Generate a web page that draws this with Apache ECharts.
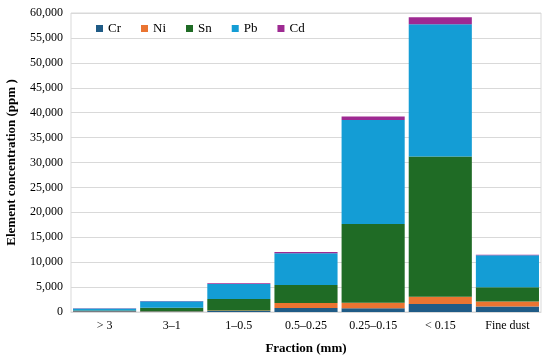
<!DOCTYPE html>
<html><head><meta charset="utf-8">
<script src="https://cdn.jsdelivr.net/npm/echarts@6/dist/echarts.min.js"></script>
<style>html,body{margin:0;padding:0;background:#fff}#c{width:550px;height:359px}</style>
</head><body><div id="c"></div>
<script>
var categories = ['> 3', '3–1', '1–0.5', '0.5–0.25', '0.25–0.15', '< 0.15', 'Fine dust'];
var Cr = [150, 100, 200, 800, 750, 1600, 1100];
var Ni = [30, 50, 100, 1000, 1100, 1480, 1000];
var Sn = [100, 700, 2300, 3600, 15800, 28100, 2850];
var Pb = [420, 1300, 3000, 6400, 20900, 26580, 6450];
var Cd = [50, 50, 150, 250, 700, 1410, 100];
var yTicks = [0, 60000, 5000];

var seriesDefs = [
  ['Cr', Cr, '#1f5b86'],
  ['Ni', Ni, '#ea7431'],
  ['Sn', Sn, '#1f6b25'],
  ['Pb', Pb, '#149dd5'],
  ['Cd', Cd, '#9e2a92']
];
var font = 'Liberation Serif';
var chart = echarts.init(document.getElementById('c'));
chart.setOption({
  animation: false,
  textStyle: {fontFamily: font},
  grid: {left: 71, right: 9, top: 13, bottom: 47, show: true, borderColor: '#d9d9d9', borderWidth: 1,
    outerBoundsMode: 'none', containLabel: false},
  legend: {
    left: 91, top: 17, itemWidth: 7, itemHeight: 7, itemGap: 20,
    icon: 'rect',
    textStyle: {fontFamily: font, fontSize: 13, color: '#000'},
    data: seriesDefs.map(function(s){return s[0];})
  },
  xAxis: {
    type: 'category', data: categories,
    name: 'Fraction (mm)', nameLocation: 'middle', nameGap: 30,
    nameTextStyle: {fontFamily: font, fontSize: 13, fontWeight: 'bold', color: '#000'},
    axisLine: {lineStyle: {color: '#d9d9d9'}},
    axisTick: {show: false},
    axisLabel: {fontFamily: font, fontSize: 12, color: '#000', margin: 8}
  },
  yAxis: {
    type: 'value', min: yTicks[0], max: yTicks[1], interval: yTicks[2],
    name: 'Element concentration (ppm )', nameLocation: 'middle', nameGap: 53,
    nameTextStyle: {fontFamily: font, fontSize: 13, fontWeight: 'bold', color: '#000'},
    axisLine: {show: false}, axisTick: {show: false},
    splitLine: {lineStyle: {color: '#d9d9d9'}},
    axisLabel: {fontFamily: font, fontSize: 12, color: '#000', margin: 8,
      formatter: function(v){return v.toLocaleString('en-US');}}
  },
  series: seriesDefs.map(function(s){
    return {name: s[0], type: 'bar', stack: 'total', data: s[1], barCategoryGap: '6%',
      itemStyle: {color: s[2]}};
  })
});
</script></body></html>
